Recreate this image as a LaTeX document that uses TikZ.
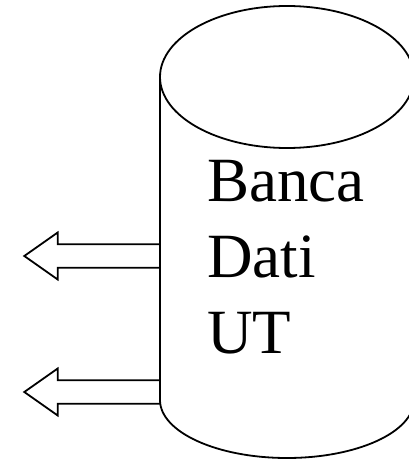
\documentclass[tikz,border=0pt]{standalone}
\usepackage{fontspec}
\setmainfont{Liberation Serif}
\usetikzlibrary{calc}
\begin{document}
\begin{tikzpicture}[x=1pt,y=1pt,
  outline/.style={draw=black,line width=1.8pt,line join=miter},
  label/.style={anchor=base west,inner sep=0pt,font=\fontsize{63}{76}\selectfont}]
\useasboundingbox (0,0) rectangle (409,459);
\clip (0,0) rectangle (409,459);
% cylinder
\draw[outline] (287,382) ellipse [x radius=127, y radius=71];
\draw[outline] (160,382) -- (160,59) arc [start angle=180, end angle=360, x radius=127, y radius=58] -- (414,382);
% arrows
\coordinate (a1) at (160,203);
\coordinate (a2) at (160,67);
\draw[outline] ($(a1)+(0,11.7)$) -- ++(-102.3,0) -- ++(0,11.8) -- ++(-33.4,-23.5) -- ++(33.4,-23.5) -- ++(0,11.8) -- ++(102.3,0);
\draw[outline] ($(a2)+(0,11.7)$) -- ++(-102.3,0) -- ++(0,11.8) -- ++(-33.4,-23.5) -- ++(33.4,-23.5) -- ++(0,11.8) -- ++(102.3,0);
% text
\node[label] (banca) at (207,257) {Banca};
\node[label] (dati) at (207,181) {Dati};
\node[label] (ut) at (207,105) {UT};
\end{tikzpicture}
\end{document}
